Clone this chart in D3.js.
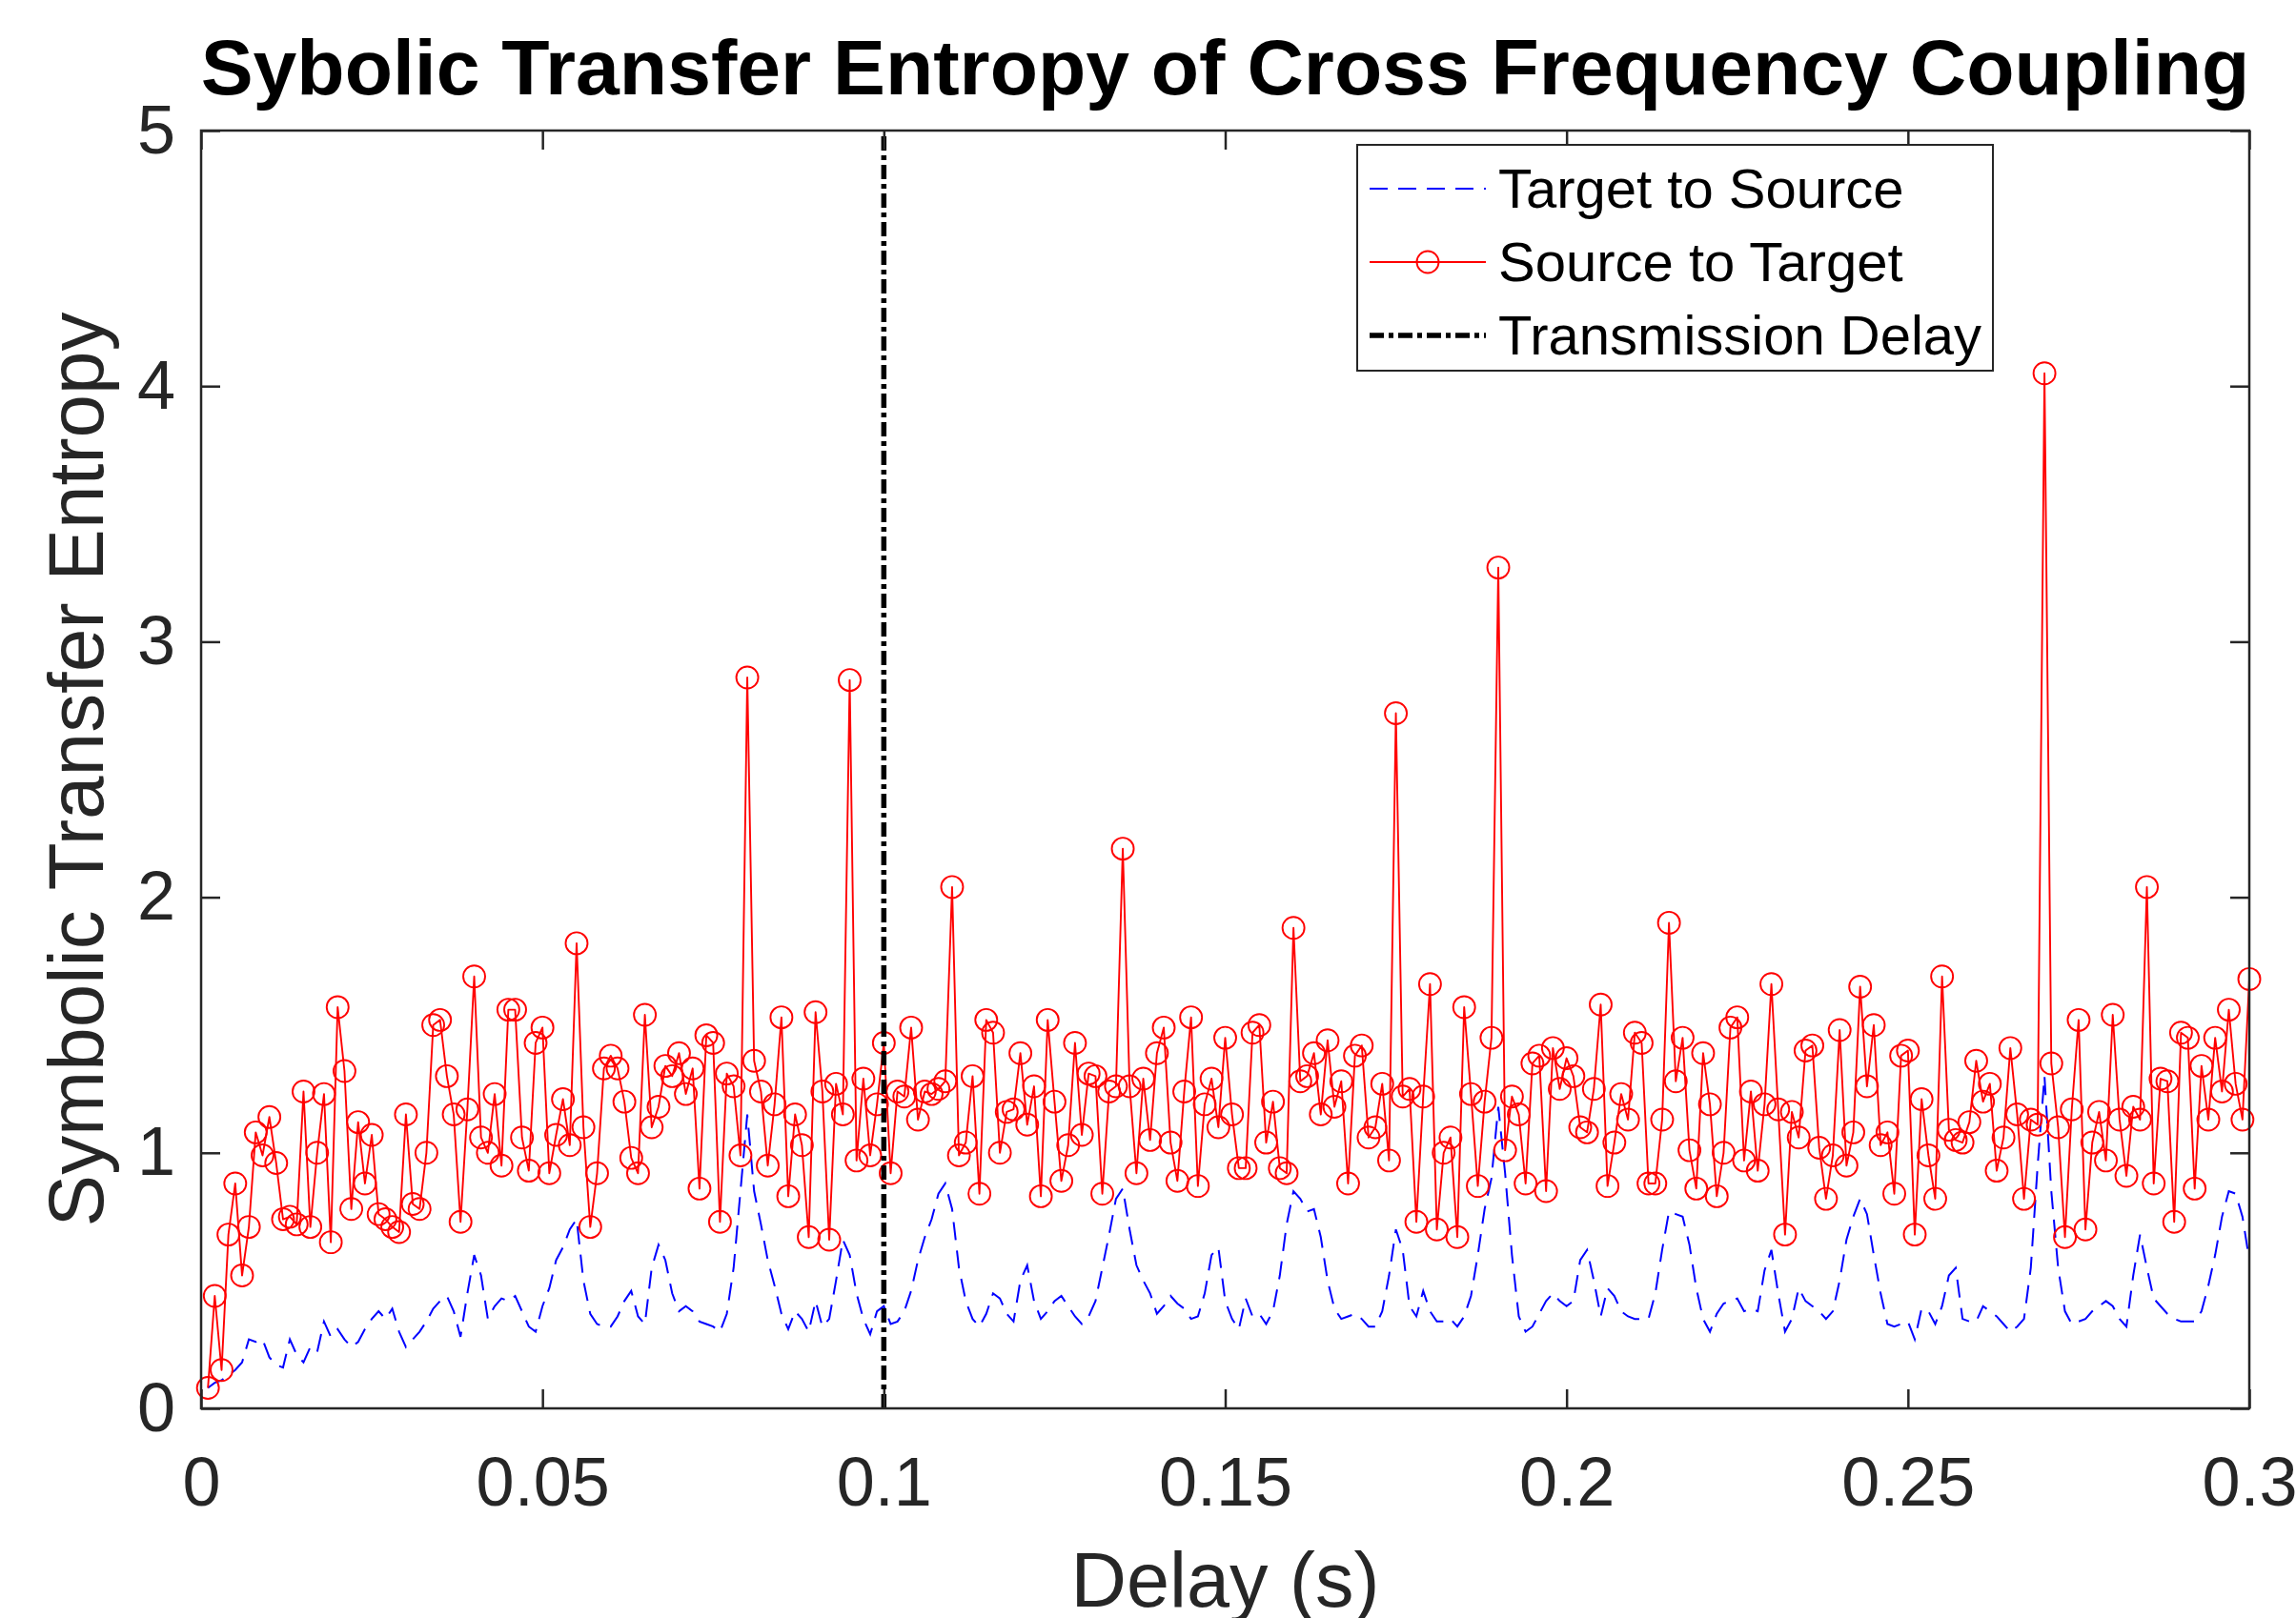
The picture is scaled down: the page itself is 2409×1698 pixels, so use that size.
<!DOCTYPE html>
<html>
<head>
<meta charset="utf-8">
<script src="https://cdn.jsdelivr.net/npm/d3@7/dist/d3.min.js"></script>
<style>
  html, body { margin: 0; padding: 0; background: #ffffff; }
  svg { display: block; }
  text { font-family: 'Liberation Sans', Arial, Helvetica, sans-serif; }
</style>
</head>
<body>
<svg id="chart" width="2409" height="1698"></svg>
<script>
// ---------------- DATA ----------------
const titleText = "Sybolic Transfer Entropy of Cross Frequency Coupling";
const xLabelText = "Delay (s)";
const yLabelText = "Symbolic Transfer Entropy";
const seriesNames = ["Target to Source", "Source to Target", "Transmission Delay"];

const xTicks = [0, 0.05, 0.1, 0.15, 0.2, 0.25, 0.3];
const xTickLabels = ["0", "0.05", "0.1", "0.15", "0.2", "0.25", "0.3"];
const yTicks = [0, 1, 2, 3, 4, 5];
const yTickLabels = ["0", "1", "2", "3", "4", "5"];

const transmissionDelay = 0.1;

// delays: 1 ms .. 300 ms
const delays = d3.range(1, 301).map(i => i / 1000);

const sourceToTarget = [
  0.08, 0.44, 0.15, 0.68, 0.88, 0.52, 0.71, 1.08, 0.99, 1.14,
  0.96, 0.74, 0.75, 0.72, 1.24, 0.71, 1.00, 1.23, 0.65, 1.57,
  1.32, 0.78, 1.12, 0.88, 1.07, 0.76, 0.74, 0.71, 0.69, 1.15,
  0.80, 0.78, 1.00, 1.50, 1.52, 1.30, 1.15, 0.73, 1.17, 1.69,
  1.06, 1.00, 1.23, 0.95, 1.56, 1.56, 1.06, 0.93, 1.43, 1.49,
  0.92, 1.07, 1.21, 1.03, 1.82, 1.10, 0.71, 0.92, 1.33, 1.38,
  1.33, 1.20, 0.98, 0.92, 1.54, 1.10, 1.18, 1.34, 1.30, 1.39,
  1.23, 1.33, 0.86, 1.46, 1.43, 0.73, 1.31, 1.26, 0.99, 2.86,
  1.36, 1.24, 0.95, 1.19, 1.53, 0.83, 1.15, 1.03, 0.67, 1.55,
  1.24, 0.66, 1.27, 1.15, 2.85, 0.97, 1.29, 0.99, 1.19, 1.43,
  0.92, 1.24, 1.22, 1.49, 1.13, 1.24, 1.23, 1.25, 1.28, 2.04,
  0.99, 1.04, 1.30, 0.84, 1.52, 1.47, 1.00, 1.16, 1.17, 1.39,
  1.11, 1.26, 0.83, 1.52, 1.20, 0.89, 1.03, 1.43, 1.07, 1.31,
  1.30, 0.84, 1.24, 1.26, 2.19, 1.26, 0.92, 1.29, 1.05, 1.39,
  1.49, 1.04, 0.89, 1.24, 1.53, 0.87, 1.19, 1.29, 1.10, 1.45,
  1.15, 0.94, 0.94, 1.47, 1.50, 1.04, 1.20, 0.94, 0.92, 1.88,
  1.28, 1.30, 1.39, 1.15, 1.44, 1.18, 1.28, 0.88, 1.38, 1.42,
  1.06, 1.10, 1.27, 0.97, 2.72, 1.22, 1.25, 0.73, 1.22, 1.66,
  0.70, 1.00, 1.06, 0.67, 1.57, 1.23, 0.87, 1.20, 1.45, 3.29,
  1.01, 1.22, 1.15, 0.88, 1.35, 1.38, 0.85, 1.41, 1.25, 1.37,
  1.30, 1.10, 1.08, 1.25, 1.58, 0.87, 1.04, 1.23, 1.13, 1.47,
  1.43, 0.88, 0.88, 1.13, 1.90, 1.28, 1.45, 1.01, 0.86, 1.39,
  1.19, 0.83, 1.00, 1.49, 1.53, 0.97, 1.24, 0.93, 1.19, 1.66,
  1.17, 0.68, 1.16, 1.06, 1.40, 1.42, 1.02, 0.82, 0.99, 1.48,
  0.95, 1.08, 1.65, 1.26, 1.50, 1.03, 1.08, 0.84, 1.38, 1.40,
  0.68, 1.21, 0.99, 0.82, 1.69, 1.09, 1.05, 1.04, 1.12, 1.36,
  1.20, 1.27, 0.93, 1.06, 1.41, 1.15, 0.82, 1.13, 1.11, 4.05,
  1.35, 1.10, 0.67, 1.17, 1.52, 0.70, 1.04, 1.16, 0.97, 1.54,
  1.13, 0.91, 1.18, 1.13, 2.04, 0.88, 1.29, 1.28, 0.73, 1.47,
  1.45, 0.86, 1.34, 1.13, 1.45, 1.24, 1.56, 1.27, 1.13, 1.68
];

const targetToSource = [
  0.08, 0.10, 0.11, 0.13, 0.15, 0.18, 0.27, 0.26, 0.27, 0.20,
  0.17, 0.16, 0.27, 0.21, 0.18, 0.24, 0.22, 0.34, 0.28, 0.31,
  0.27, 0.24, 0.26, 0.31, 0.35, 0.38, 0.35, 0.39, 0.30, 0.24,
  0.27, 0.30, 0.34, 0.39, 0.42, 0.44, 0.38, 0.28, 0.45, 0.60,
  0.52, 0.35, 0.40, 0.43, 0.42, 0.44, 0.38, 0.32, 0.30, 0.40,
  0.47, 0.58, 0.63, 0.70, 0.74, 0.50, 0.37, 0.33, 0.32, 0.32,
  0.36, 0.42, 0.46, 0.36, 0.33, 0.55, 0.64, 0.58, 0.45, 0.38,
  0.40, 0.38, 0.34, 0.33, 0.32, 0.30, 0.37, 0.55, 0.85, 1.15,
  0.85, 0.72, 0.58, 0.48, 0.37, 0.31, 0.38, 0.35, 0.30, 0.42,
  0.32, 0.35, 0.50, 0.66, 0.60, 0.45, 0.35, 0.29, 0.38, 0.40,
  0.33, 0.34, 0.38, 0.46, 0.58, 0.67, 0.74, 0.84, 0.88, 0.78,
  0.55, 0.42, 0.35, 0.32, 0.37, 0.45, 0.43, 0.37, 0.34, 0.50,
  0.56, 0.42, 0.35, 0.38, 0.42, 0.44, 0.40, 0.36, 0.33, 0.36,
  0.42, 0.55, 0.68, 0.82, 0.86, 0.70, 0.56, 0.50, 0.45, 0.37,
  0.40, 0.44, 0.41, 0.39, 0.35, 0.36, 0.45, 0.60, 0.63, 0.42,
  0.35, 0.31, 0.43, 0.36, 0.37, 0.33, 0.38, 0.52, 0.72, 0.85,
  0.82, 0.77, 0.78, 0.67, 0.50, 0.39, 0.35, 0.36, 0.37, 0.35,
  0.32, 0.32, 0.38, 0.52, 0.70, 0.62, 0.40, 0.36, 0.46, 0.38,
  0.34, 0.34, 0.35, 0.32, 0.36, 0.44, 0.60, 0.78, 0.90, 1.18,
  0.92, 0.60, 0.36, 0.30, 0.32, 0.37, 0.42, 0.45, 0.42, 0.40,
  0.42, 0.58, 0.62, 0.50, 0.36, 0.47, 0.44, 0.38, 0.36, 0.35,
  0.35, 0.35, 0.45, 0.62, 0.77, 0.76, 0.75, 0.64, 0.47, 0.35,
  0.30, 0.37, 0.41, 0.42, 0.43, 0.38, 0.39, 0.38, 0.54, 0.62,
  0.45, 0.30, 0.35, 0.47, 0.42, 0.40, 0.38, 0.35, 0.38, 0.50,
  0.66, 0.75, 0.82, 0.76, 0.60, 0.45, 0.33, 0.32, 0.33, 0.34,
  0.27, 0.39, 0.38, 0.33, 0.40, 0.52, 0.55, 0.35, 0.34, 0.34,
  0.40, 0.38, 0.36, 0.33, 0.30, 0.32, 0.35, 0.55, 0.95, 1.30,
  0.85, 0.55, 0.38, 0.33, 0.34, 0.35, 0.38, 0.40, 0.42, 0.40,
  0.35, 0.32, 0.52, 0.68, 0.55, 0.43, 0.40, 0.37, 0.35, 0.34,
  0.34, 0.34, 0.38, 0.48, 0.60, 0.75, 0.85, 0.84, 0.75, 0.58
];

// ---------------- LAYOUT ----------------
const W = 2409, H = 1698;
const plot = { left: 211, right: 2360, top: 137, bottom: 1478 };
const axisColor = "#262626";
const tickFont = 72;

const svg = d3.select("#chart");
svg.append("rect").attr("width", W).attr("height", H).attr("fill", "#ffffff");

const x = d3.scaleLinear().domain([0, 0.3]).range([plot.left, plot.right]);
const y = d3.scaleLinear().domain([0, 5]).range([plot.bottom, plot.top]);

function fitFont(sel, targetWidth, base) {
  sel.attr("font-size", base);
  const w = sel.node().getComputedTextLength();
  sel.attr("font-size", base * targetWidth / w);
}

// ---------------- SERIES ----------------
const blueData = delays.map((d, i) => [d, targetToSource[i]]);
const redData = delays.map((d, i) => [d, sourceToTarget[i]]);
const line = d3.line().x(d => x(d[0])).y(d => y(d[1]));

const dashBlue = "19,11";
const dashDot = "15,5,5,5";
const ddWidth = 5.5;

svg.append("path")
  .datum(blueData)
  .attr("d", line)
  .attr("fill", "none")
  .attr("stroke", "#0000ff")
  .attr("stroke-width", 2)
  .attr("stroke-dasharray", dashBlue);

svg.append("path")
  .datum(redData)
  .attr("d", line)
  .attr("fill", "none")
  .attr("stroke", "#ff0000")
  .attr("stroke-width", 1.9)
  .attr("stroke-linejoin", "round");

svg.append("g").selectAll("circle")
  .data(redData)
  .join("circle")
  .attr("cx", d => x(d[0]))
  .attr("cy", d => y(d[1]))
  .attr("r", 11.5)
  .attr("fill", "none")
  .attr("stroke", "#ff0000")
  .attr("stroke-width", 1.9);

// transmission delay line
svg.append("line")
  .attr("x1", x(transmissionDelay)).attr("x2", x(transmissionDelay))
  .attr("y1", y(0)).attr("y2", y(5))
  .attr("stroke", "#000000")
  .attr("stroke-width", ddWidth)
  .attr("stroke-dasharray", dashDot);

// ---------------- AXES ----------------
const tickLen = 20;
const gB = svg.append("g").attr("transform", `translate(0,${plot.bottom})`)
  .call(d3.axisBottom(x).tickValues(xTicks).tickFormat((d, i) => xTickLabels[i])
    .tickSizeInner(-tickLen).tickSizeOuter(0).tickPadding(51));
const gT = svg.append("g").attr("transform", `translate(0,${plot.top})`)
  .call(d3.axisTop(x).tickValues(xTicks).tickFormat("")
    .tickSizeInner(-tickLen).tickSizeOuter(0));
const gL = svg.append("g").attr("transform", `translate(${plot.left},0)`)
  .call(d3.axisLeft(y).tickValues(yTicks).tickFormat((d, i) => yTickLabels[i])
    .tickSizeInner(-tickLen).tickSizeOuter(0).tickPadding(27));
const gR = svg.append("g").attr("transform", `translate(${plot.right},0)`)
  .call(d3.axisRight(y).tickValues(yTicks).tickFormat("")
    .tickSizeInner(-tickLen).tickSizeOuter(0));

[gB, gT, gL, gR].forEach(g => {
  g.select(".domain").remove();
  g.selectAll(".tick line").attr("stroke", axisColor).attr("stroke-width", 2.5);
  g.selectAll(".tick text")
    .attr("fill", axisColor)
    .attr("font-size", tickFont)
    .attr("font-family", "'Liberation Sans', Arial, Helvetica, sans-serif");
});

svg.append("rect")
  .attr("x", plot.left).attr("y", plot.top)
  .attr("width", plot.right - plot.left).attr("height", plot.bottom - plot.top)
  .attr("fill", "none").attr("stroke", axisColor).attr("stroke-width", 2.5);

// ---------------- LABELS ----------------
const title = svg.append("text")
  .attr("x", (plot.left + plot.right) / 2).attr("y", 99)
  .attr("text-anchor", "middle").attr("font-weight", "bold")
  .attr("fill", "#000000").text(titleText);
fitFont(title, 2150, 80);

const xl = svg.append("text")
  .attr("x", (plot.left + plot.right) / 2).attr("y", 1686)
  .attr("text-anchor", "middle").attr("fill", axisColor).text(xLabelText);
fitFont(xl, 324, 80);

const yl = svg.append("text")
  .attr("transform", `translate(108,${(plot.top + plot.bottom) / 2}) rotate(-90)`)
  .attr("text-anchor", "middle").attr("fill", axisColor).text(yLabelText);
fitFont(yl, 960, 78);

// ---------------- LEGEND ----------------
const leg = { x: 1424, y: 152, w: 667, h: 237 };
svg.append("rect")
  .attr("x", leg.x).attr("y", leg.y).attr("width", leg.w).attr("height", leg.h)
  .attr("fill", "#ffffff").attr("stroke", axisColor).attr("stroke-width", 2);

const rowsY = [198, 275, 352];
const sx1 = 1437, sx2 = 1559, tx = 1572;
const legendFont = 58;

// row 1: blue dashed
svg.append("line").attr("x1", sx1).attr("x2", sx2).attr("y1", rowsY[0]).attr("y2", rowsY[0])
  .attr("stroke", "#0000ff").attr("stroke-width", 2).attr("stroke-dasharray", dashBlue);
// row 2: red with marker
svg.append("line").attr("x1", sx1).attr("x2", sx2).attr("y1", rowsY[1]).attr("y2", rowsY[1])
  .attr("stroke", "#ff0000").attr("stroke-width", 1.9);
svg.append("circle").attr("cx", (sx1 + sx2) / 2).attr("cy", rowsY[1]).attr("r", 11.5)
  .attr("fill", "none").attr("stroke", "#ff0000").attr("stroke-width", 1.9);
// row 3: black dash-dot
svg.append("line").attr("x1", sx1).attr("x2", sx2).attr("y1", rowsY[2]).attr("y2", rowsY[2])
  .attr("stroke", "#000000").attr("stroke-width", ddWidth).attr("stroke-dasharray", dashDot);

seriesNames.forEach((name, i) => {
  svg.append("text")
    .attr("x", tx).attr("y", rowsY[i]).attr("dy", "0.35em")
    .attr("font-size", legendFont).attr("fill", "#000000")
    .text(name);
});
</script>
</body>
</html>
